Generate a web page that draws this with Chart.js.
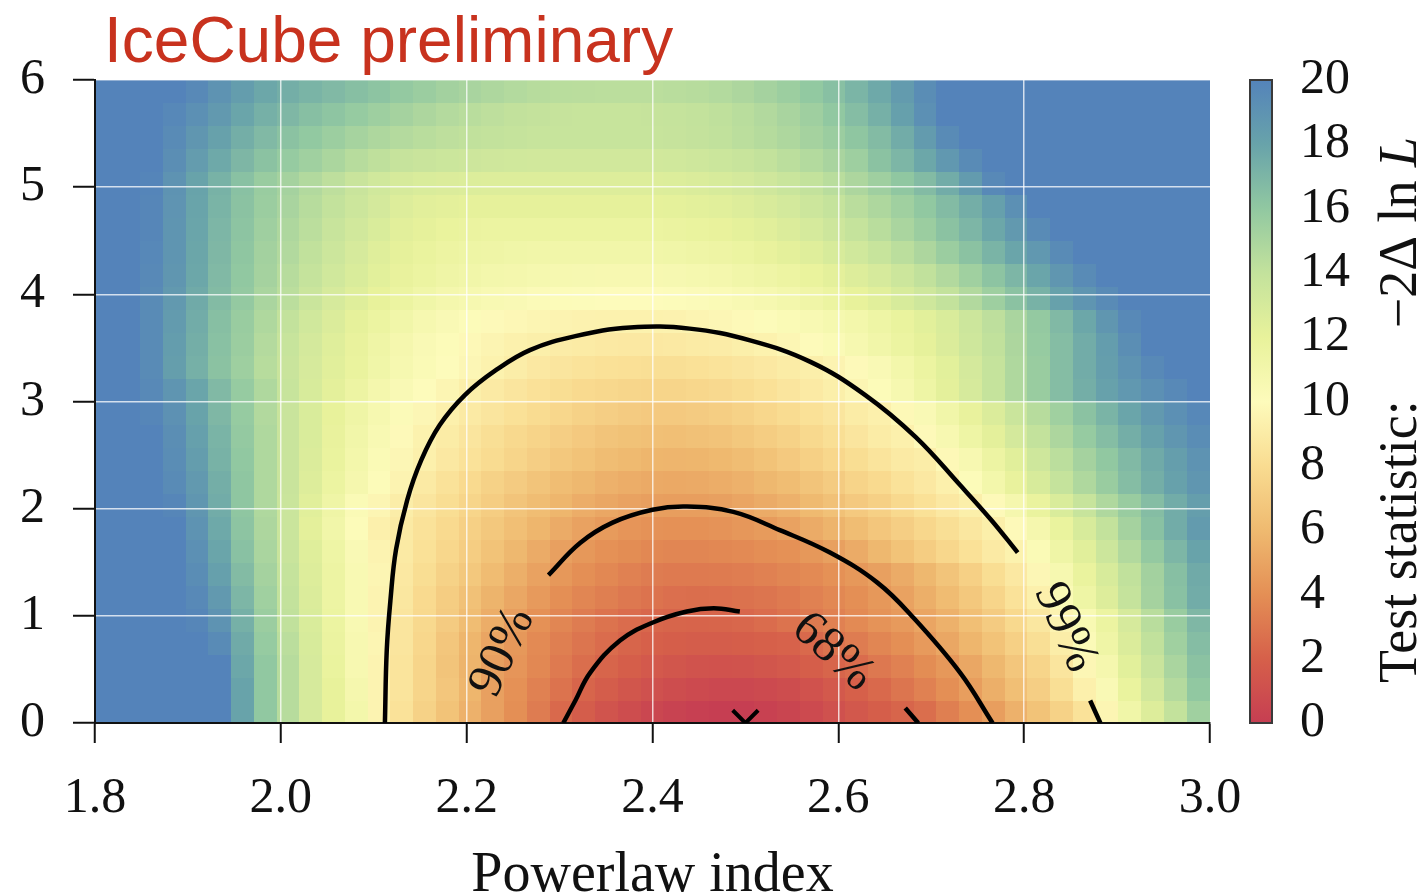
<!DOCTYPE html>
<html>
<head>
<meta charset="utf-8">
<title>IceCube TS scan</title>
<script src="https://cdn.jsdelivr.net/npm/chart.js@4.4.1/dist/chart.umd.min.js"></script>
<style>
  html, body { margin: 0; padding: 0; background: #fff; }
  #wrap { width: 1422px; height: 894px; }
</style>
</head>
<body>
<div id="wrap"><canvas id="tsChart" width="1422" height="894"></canvas></div>
<script>
// Axis ranges and tick values
const xMin = 1.8, xMax = 3.0;
const yMin = 0, yMax = 6;
const xTickValues = [1.8, 2.0, 2.2, 2.4, 2.6, 2.8, 3.0];
const yTickValues = [0, 1, 2, 3, 4, 5, 6];
const tsTickValues = [0, 2, 4, 6, 8, 10, 12, 14, 16, 18, 20];

// Colour bar stops (TS value -> rgb)
const tsStopValues = [0, 2, 4, 6, 8, 10, 12, 14, 16, 18, 20];
const tsStopColors = [
  [198, 62, 82], [214, 96, 74], [228, 143, 85], [239, 186, 112], [249, 220, 145],
  [253, 251, 187], [232, 242, 155], [195, 226, 156], [145, 200, 161], [104, 163, 170], [84, 131, 186]
];

// Test statistic grid: 49 columns (1.8 -> 3.0), 28 rows (0 -> 6), first row at the bottom
const tsRows = [
  [20,20,20,20,20,20,18, 16,14.5,13,12,11,9.5,8.4, 7.4,6.5,5.6,4.8,4,3.2,2.4, 1.8,1.3,0.9,0.5,0.3,0.1,0, 0,0.2,0.4,0.7,1.1,1.5,1.9, 2.2,2.6,3.3,4,4.7,5.6,6.5, 7.4,8.4,9.6,11.2,12.6,14,15.4],
  [20,20,20,20,20,20,18, 16,14.5,13,12,10.8,9.5,8.5, 7.6,6.7,5.8,4.8,4.1,3.4,2.8, 2.2,1.8,1.4,1.1,0.9,0.7,0.6, 0.6,0.7,0.9,1.2,1.6,2,2.4, 2.9,3.4,4,4.7,5.5,6.3,7.2, 8.2,9.3,10.4,11.8,13.2,14.6,16],
  [20,20,20,20,20,20,17.8, 16,14.5,13,11.8,10.6,9.5,8.5, 7.6,6.6,5.7,4.8,4.3,3.7,3.1, 2.6,2.2,1.9,1.6,1.4,1.25,1.2, 1.25,1.4,1.6,1.9,2.2,2.5,3, 3.4,3.9,4.4,5.1,5.9,6.7,7.6, 8.6,9.7,10.8,12.3,13.7,15,16.3],
  [20,20,20,20,20,19.5,17.6, 15.8,14.3,12.9,11.7,10.6,9.6,8.6, 7.7,6.7,5.8,5,4.4,3.8,3.3, 2.9,2.5,2.2,2,1.9,1.8,1.8, 1.9,2,2.1,2.4,2.8,3.2,3.6, 4,4.5,5.1,5.8,6.5,7.3,8.2, 9.1,10.2,11.3,12.7,14.1,15.4,16.6],
  [20,20,20,20,19.8,19,17.3, 15.6,14.1,12.8,11.6,10.5,9.5,8.6, 7.8,7,6.2,5.4,4.7,4.1,3.6, 3.2,2.8,2.5,2.3,2.2,2.15,2.2, 2.3,2.5,2.8,3.1,3.4,3.8,4.2, 4.5,5,5.6,6.3,7,7.8,8.7, 9.5,10.5,11.6,13,14.4,15.7,16.9],
  [20,20,20,20,19.6,18.6,17, 15.4,14,12.7,11.5,10.5,9.5,8.7, 7.9,7.1,6.4,5.7,5.1,4.5,4, 3.6,3.3,3,2.8,2.65,2.6,2.65, 2.75,2.9,3.1,3.4,3.7,4,4.4, 4.9,5.5,6.1,6.8,7.6,8.4,9.3, 10.3,11.4,12.6,13.9,15.2,16.4,17.5],
  [20,20,20,20,19.4,18.2,16.7, 15.2,13.9,12.6,11.5,10.5,9.6,8.8, 8.1,7.4,6.8,6.1,5.5,4.9,4.4, 4,3.7,3.4,3.2,3.1,3.1,3.15, 3.25,3.4,3.6,3.8,4.1,4.4,4.8, 5.3,5.9,6.6,7.3,8.1,8.8,9.7, 10.7,11.8,12.9,14.1,15.3,16.5,17.6],
  [20,20,20,20,19.2,17.9,16.4, 15,13.7,12.5,11.4,10.4,9.5,8.9, 8.3,7.7,7.1,6.5,5.9,5.3,4.8, 4.4,4.1,3.9,3.7,3.6,3.6,3.7, 3.8,3.95,4.1,4.4,4.8,5.3,5.9, 6.5,7.1,7.7,8.3,8.9,9.4,10.3, 11.3,12.4,13.5,14.7,15.9,17,18],
  [20,20,20,20,19,17.7,16.2, 14.9,13.6,12.2,11.1,10.1,9.3,8.9, 8.4,7.9,7.3,6.8,6.3,5.8,5.3, 4.9,4.55,4.3,4.15,4.1,4.1,4.2, 4.35,4.55,4.9,5.3,5.7,6.2,6.7, 7.2,7.7,8.2,8.7,9.2,9.9,10.8, 11.8,12.9,14,15.2,16.4,17.5,18.5],
  [20,20,20,19.8,18.8,17.5,16.1, 14.8,13.6,12.4,11.3,10.3,9.6,9.1, 8.6,8.1,7.6,7.1,6.6,6.2,5.8, 5.4,5.1,4.9,4.75,4.7,4.7,4.8, 5,5.3,5.6,6,6.4,6.9,7.3, 7.8,8.3,8.8,9.2,9.9,10.8,11.8, 12.8,13.8,14.8,15.7,16.6,17.5,18.3],
  [20,20,20,19.5,18.6,17.4,16.1, 14.8,13.7,12.6,11.6,10.8,10.1,9.5, 8.9,8.4,7.9,7.4,7,6.6,6.2, 5.9,5.6,5.4,5.25,5.2,5.25,5.4, 5.6,5.9,6.2,6.6,7,7.5,7.9, 8.4,8.8,9.3,10.1,11,11.9,12.9, 13.9,14.8,15.7,16.6,17.4,18.1,18.8],
  [20,20,20,19.4,18.4,17.2,16, 14.8,13.7,12.7,11.8,11,10.3,9.7, 9.3,8.8,8.4,8,7.6,7.2,6.8, 6.5,6.2,6,5.8,5.75,5.8,5.95, 6.2,6.5,6.9,7.3,7.7,8.1,8.5, 8.9,9.1,9.8,10.6,11.5,12.4,13.4, 14.3,15.2,16,16.8,17.6,18.3,19],
  [20,20,20,19.3,18.2,17.1,15.9, 14.8,13.7,12.8,11.9,11.1,10.5,9.9, 9.4,9,8.6,8.2,7.8,7.5,7.2, 6.9,6.6,6.45,6.35,6.3,6.4,6.55, 6.8,7.1,7.4,7.8,8.2,8.6,9, 9.3,9.9,10.6,11.4,12.2,13.1,14, 14.9,15.8,16.6,17.4,18.1,18.8,19.4],
  [20,20,19.8,19.1,18,16.9,15.8, 14.7,13.7,12.8,12,11.3,10.7,10.2, 9.7,9.3,8.9,8.6,8.3,8,7.7, 7.4,7.2,7,6.9,6.9,7,7.15, 7.4,7.7,8,8.3,8.6,9,9.3, 9.8,10.4,11.1,11.9,12.7,13.6,14.5, 15.4,16.3,17.1,17.9,18.6,19.2,19.7],
  [20,20,19.6,18.9,17.9,16.8,15.8, 14.8,13.8,12.9,12.2,11.5,10.9,10.4, 10,9.6,9.2,8.9,8.6,8.35,8.1, 7.9,7.75,7.65,7.6,7.6,7.7,7.85, 8.05,8.3,8.6,8.9,9.2,9.6,10.1, 10.7,11.4,12.2,13,13.9,14.8,15.7, 16.6,17.4,18.1,18.7,19.2,19.6,20],
  [20,20,19.5,18.3,17.3,16.3,15.5, 14.5,13.7,13,12.4,11.8,11.2,10.7, 10.3,10,9.7,9.4,9.1,8.8,8.6, 8.45,8.3,8.25,8.2,8.2,8.3,8.45, 8.6,8.8,9,9.2,9.5,9.9,10.4, 11,11.6,12.3,13.1,13.9,14.8,15.7, 16.6,17.5,18.3,19,19.6,20,20],
  [20,20,19.5,18.4,17.4,16.4,15.6, 14.6,13.8,13.1,12.5,11.9,11.3,10.8, 10.4,10.1,9.8,9.55,9.35,9.2,9.05, 8.95,8.85,8.8,8.8,8.85,8.95,9.05, 9.2,9.4,9.65,9.95,10.3,10.7,11.1, 11.6,12.1,12.7,13.4,14.1,14.9,15.8, 16.6,17.5,18.4,19.3,20,20,20],
  [20,20,19.5,18.5,17.5,16.5,15.7, 14.8,14,13.3,12.7,12.1,11.6,11.1, 10.7,10.4,10.1,9.9,9.75,9.6,9.5, 9.45,9.4,9.4,9.4,9.45,9.55,9.7, 9.85,10.05,10.3,10.5,10.75,11,11.4, 11.8,12.3,12.8,13.5,14.2,15,15.9, 16.8,17.8,18.8,19.6,20,20,20],
  [20,20,19.5,18.6,17.6,16.7,15.9, 15,14.3,13.6,13,12.5,12,11.6, 11.2,10.9,10.7,10.5,10.35,10.2,10.1, 10.05,10,10,10,10.05,10.15,10.3, 10.5,10.7,10.95,11.25,11.6,12,12.4, 12.9,13.4,14,14.7,15.5,16.3,17.2, 18.1,18.9,19.5,20,20,20,20],
  [20,20,19.6,18.8,17.8,16.8,16, 15.2,14.5,13.9,13.3,12.8,12.3,11.9, 11.6,11.3,11.1,10.95,10.85,10.75,10.7, 10.65,10.6,10.6,10.6,10.65,10.75,10.9, 11.1,11.3,11.55,11.85,12.2,12.6,13, 13.5,14.1,14.7,15.4,16.2,17,17.9, 18.8,19.5,20,20,20,20,20],
  [20,20,19.7,18.85,17.85,16.9,16.1, 15.3,14.7,14.1,13.5,13,12.5,12.1, 11.8,11.55,11.4,11.3,11.2,11.15,11.1, 11.1,11.1,11.1,11.15,11.2,11.3,11.45, 11.65,11.9,12.2,12.5,12.9,13.3,13.8, 14.3,14.9,15.6,16.3,17.1,17.9,18.7, 19.5,20,20,20,20,20,20],
  [20,20,19.8,18.9,17.9,17,16.2, 15.45,14.85,14.3,13.75,13.25,12.8,12.35, 12.1,11.85,11.7,11.65,11.6,11.6,11.6, 11.6,11.6,11.6,11.65,11.7,11.8,11.95, 12.15,12.4,12.7,13.05,13.45,13.9,14.4, 15,15.6,16.3,17,17.8,18.6,19.5, 20,20,20,20,20,20,20],
  [20,20,19.8,18.95,17.95,17.1,16.3, 15.6,15.05,14.5,14,13.5,13.1,12.6, 12.35,12.2,12.1,12.1,12.1,12.1,12.1, 12.1,12.1,12.1,12.1,12.15,12.25,12.4, 12.6,12.85,13.15,13.5,13.9,14.35,14.85, 15.4,16,16.7,17.4,18.2,19.2,20, 20,20,20,20,20,20,20],
  [20,20,19.9,19,18,17.2,16.4, 15.7,15.2,14.7,14.2,13.7,13.3,12.95, 12.8,12.7,12.65,12.6,12.6,12.6,12.6, 12.6,12.6,12.6,12.6,12.65,12.75,12.9, 13.1,13.35,13.65,14,14.4,14.9,15.45, 16.05,16.7,17.5,18.5,19.6,20,20, 20,20,20,20,20,20,20],
  [20,20,20,19.3,18.45,17.7,16.95, 16.3,15.8,15.4,14.95,14.5,14.15,13.85, 13.7,13.55,13.45,13.35,13.3,13.25,13.25, 13.25,13.25,13.25,13.25,13.3,13.4,13.55, 13.75,14,14.3,14.65,15.05,15.5,16.3, 17,17.8,18.7,19.5,20,20,20, 20,20,20,20,20,20,20],
  [20,20,20,19.5,18.8,18.1,17.4, 16.8,16.3,15.95,15.55,15.15,14.85,14.6, 14.4,14.2,14.1,14,13.9,13.8,13.8, 13.8,13.8,13.8,13.8,13.85,13.95,14.1, 14.3,14.55,14.85,15.2,15.6,16.1,16.7, 17.5,18.5,19.5,20,20,20,20, 20,20,20,20,20,20,20],
  [20,20,20,19.7,19.2,18.6,17.9, 17.3,16.9,16.5,16.15,15.8,15.5,15.2, 14.9,14.6,14.4,14.2,14.05,13.95,13.85, 13.8,13.8,13.8,13.85,13.9,14,14.15, 14.4,14.7,15.05,15.45,16,16.6,17.3, 18.2,19.2,20,20,20,20,20, 20,20,20,20,20,20,20],
  [20,20,20,20,19.6,19,18.4, 17.8,17.4,17.1,16.8,16.5,16.2,15.9, 15.6,15.3,15.05,14.85,14.65,14.5,14.4, 14.35,14.3,14.3,14.3,14.4,14.5,14.65, 14.9,15.2,15.55,15.95,16.45,17.05,17.7, 18.5,19.4,20,20,20,20,20, 20,20,20,20,20,20,20]
];

// Contour lines (powerlaw index, y), split where the labels sit
const contour99a = [[2.112,0],[2.114,0.68],[2.118,1.15],[2.124,1.62],[2.136,2.08],[2.151,2.45],[2.171,2.78],[2.198,3.06],[2.231,3.29],[2.268,3.48],[2.317,3.61],[2.376,3.69],[2.440,3.68],[2.505,3.57],[2.570,3.37],[2.629,3.06],[2.683,2.67],[2.731,2.22],[2.765,1.89],[2.793,1.59]];
const contour99b = [[2.871,0.21],[2.882,0]];
const contour90 = [[2.288,1.38],[2.322,1.68],[2.357,1.87],[2.400,1.99],[2.437,2.02],[2.487,1.97],[2.537,1.80],[2.591,1.59],[2.642,1.31],[2.680,0.99],[2.731,0.47],[2.766,0]];
const contour68a = [[2.304,0],[2.317,0.21],[2.333,0.47],[2.365,0.77],[2.401,0.94],[2.437,1.04],[2.466,1.07],[2.494,1.04]];
const contour68b = [[2.672,0.14],[2.686,0]];
const bestFit = [[2.5, 0]];

const contourLabels = ['68%', '90%', '99%'];
const contourLabelX = [2.594, 2.239, 2.844];
const contourLabelY = [0.66, 0.66, 0.89];

const serif = "'Liberation Serif', 'Times New Roman', serif";
const labelAngle = { '68%': 42, '90%': -65, '99%': 66 };

function tsColor(v) {
  v = Math.max(tsStopValues[0], Math.min(tsStopValues[tsStopValues.length - 1], v));
  for (let k = 1; k < tsStopValues.length; k++) {
    if (v <= tsStopValues[k]) {
      const t = (v - tsStopValues[k - 1]) / (tsStopValues[k] - tsStopValues[k - 1]);
      const a = tsStopColors[k - 1], b = tsStopColors[k];
      return `rgb(${Math.round(a[0] + (b[0] - a[0]) * t)},${Math.round(a[1] + (b[1] - a[1]) * t)},${Math.round(a[2] + (b[2] - a[2]) * t)})`;
    }
  }
  return 'rgb(84,131,186)';
}

const toPoints = arr => arr.map(([x, y]) => ({ x, y }));

// Heatmap cells, drawn before the grid so the white grid lines sit on top
const heatmapPlugin = {
  id: 'heatmap',
  beforeDraw(chart) {
    const { ctx, scales: { x, y } } = chart;
    const nRows = tsRows.length, nCols = tsRows[0].length;
    const dx = (xMax - xMin) / nCols, dy = (yMax - yMin) / nRows;
    ctx.save();
    tsRows.forEach((row, r) => {
      const top = Math.floor(y.getPixelForValue(yMin + (r + 1) * dy));
      const bottom = Math.ceil(y.getPixelForValue(yMin + r * dy));
      row.forEach((v, c) => {
        const left = Math.floor(x.getPixelForValue(xMin + c * dx));
        const right = Math.ceil(x.getPixelForValue(xMin + (c + 1) * dx));
        ctx.fillStyle = tsColor(v);
        ctx.fillRect(left, top, right - left, bottom - top);
      });
    });
    ctx.restore();
  }
};

// Colour bar beside the plot, placed on the 'cb' scale
const colorbarPlugin = {
  id: 'colorbar',
  afterDraw(chart) {
    const { ctx, chartArea, scales: { cb } } = chart;
    const left = chartArea.right + 40, width = 22;
    const top = cb.getPixelForValue(20), bottom = cb.getPixelForValue(0);
    ctx.save();
    const grad = ctx.createLinearGradient(0, bottom, 0, top);
    tsStopValues.forEach(v => grad.addColorStop(v / 20, tsColor(v)));
    ctx.fillStyle = grad;
    ctx.fillRect(left, top, width, bottom - top);
    ctx.strokeStyle = '#3a3a3a';
    ctx.lineWidth = 2;
    ctx.strokeRect(left, top, width, bottom - top);

    // colour bar title, reading upwards
    const partA = 'Test statistic:';
    const partB = '\u22122\u0394 ln ';
    const partC = 'L';
    const gap = 72;
    const fontA = `54px ${serif}`, fontC = `italic 54px ${serif}`;
    ctx.font = fontA;
    const wA = ctx.measureText(partA).width;
    const wB = ctx.measureText(partB).width;
    ctx.font = fontC;
    const wC = ctx.measureText(partC).width;
    const total = wA + gap + wB + wC;
    ctx.translate(1416, 410);
    ctx.rotate(-Math.PI / 2);
    ctx.fillStyle = '#111';
    ctx.textBaseline = 'alphabetic';
    ctx.textAlign = 'left';
    let px = -total / 2;
    ctx.font = fontA;
    ctx.fillText(partA, px, 0);
    px += wA + gap;
    ctx.fillText(partB, px, 0);
    px += wB;
    ctx.font = fontC;
    ctx.fillText(partC, px, 0);
    ctx.restore();
  }
};

// Title and contour labels
const textPlugin = {
  id: 'texts',
  afterDraw(chart) {
    const { ctx, scales: { x, y } } = chart;
    ctx.save();
    ctx.fillStyle = '#c8321e';
    ctx.font = "64px 'Liberation Sans', Arial, sans-serif";
    ctx.textBaseline = 'alphabetic';
    ctx.textAlign = 'left';
    ctx.fillText('IceCube preliminary', 104, 62);

    ctx.fillStyle = '#111';
    ctx.font = `50px ${serif}`;
    ctx.textAlign = 'center';
    ctx.textBaseline = 'middle';
    contourLabels.forEach((txt, k) => {
      ctx.save();
      ctx.translate(x.getPixelForValue(contourLabelX[k]), y.getPixelForValue(contourLabelY[k]));
      ctx.rotate(labelAngle[txt] * Math.PI / 180);
      ctx.fillText(txt, 0, 0);
      ctx.restore();
    });
    ctx.restore();
  }
};

const contourStyle = {
  showLine: true,
  borderColor: '#000',
  borderWidth: 4.5,
  pointRadius: 0,
  tension: 0.4,
  fill: false
};

const isEdge = (v, lo, hi) => Math.abs(v - lo) < 1e-9 || Math.abs(v - hi) < 1e-9;

const chartCtx = document.getElementById('tsChart').getContext('2d');
const tsChart = new Chart(chartCtx, {
  type: 'scatter',
  data: {
    datasets: [
      { ...contourStyle, data: toPoints(contour99a) },
      { ...contourStyle, data: toPoints(contour99b) },
      { ...contourStyle, data: toPoints(contour90) },
      { ...contourStyle, data: toPoints(contour68a) },
      { ...contourStyle, data: toPoints(contour68b) },
      {
        data: toPoints(bestFit),
        pointStyle: 'crossRot',
        pointRadius: 18,
        borderWidth: 4,
        borderColor: '#000',
        backgroundColor: '#000',
        clip: 0
      }
    ]
  },
  options: {
    responsive: false,
    animation: false,
    devicePixelRatio: 1,
    layout: { padding: { top: 80, left: 0, right: 0, bottom: 0 } },
    plugins: {
      legend: { display: false },
      tooltip: { enabled: false },
      title: { display: false }
    },
    scales: {
      x: {
        type: 'linear',
        position: 'bottom',
        min: xMin,
        max: xMax,
        afterBuildTicks: s => { s.ticks = xTickValues.map(v => ({ value: v })); },
        afterFit: s => { s.height = 171; },
        ticks: {
          autoSkip: false,
          maxRotation: 0,
          padding: 26,
          color: '#111',
          font: { family: serif, size: 50 },
          callback: v => v.toFixed(1)
        },
        grid: {
          color: c => (c.tick && isEdge(c.tick.value, xMin, xMax)) ? 'rgba(0,0,0,0)' : 'rgba(255,255,255,0.75)',
          lineWidth: 1.5,
          tickColor: '#111',
          tickLength: 20,
          tickWidth: 2
        },
        border: { color: '#111', width: 2 },
        title: {
          display: true,
          text: 'Powerlaw index',
          color: '#111',
          font: { family: serif, size: 56, lineHeight: 0.64 },
          padding: { top: 0, bottom: 0 }
        }
      },
      y: {
        type: 'linear',
        position: 'left',
        min: yMin,
        max: yMax,
        afterBuildTicks: s => { s.ticks = yTickValues.map(v => ({ value: v })); },
        afterFit: s => { s.width = 95; },
        ticks: {
          autoSkip: false,
          padding: 28,
          color: '#111',
          font: { family: serif, size: 50 }
        },
        grid: {
          color: c => (c.tick && c.tick.value === yMin) ? 'rgba(0,0,0,0)' : 'rgba(255,255,255,0.75)',
          lineWidth: 1.5,
          tickColor: '#111',
          tickLength: 22,
          tickWidth: 2
        },
        border: { color: '#111', width: 2 }
      },
      cb: {
        type: 'linear',
        position: 'right',
        min: 0,
        max: 20,
        afterBuildTicks: s => { s.ticks = tsTickValues.map(v => ({ value: v })); },
        afterFit: s => { s.width = 212; },
        ticks: {
          autoSkip: false,
          padding: 4,
          color: '#111',
          font: { family: serif, size: 50 }
        },
        grid: { display: true, drawOnChartArea: false, drawTicks: true, tickLength: 86, tickColor: 'rgba(0,0,0,0)' },
        border: { display: false }
      }
    }
  },
  plugins: [heatmapPlugin, colorbarPlugin, textPlugin]
});
</script>
</body>
</html>
